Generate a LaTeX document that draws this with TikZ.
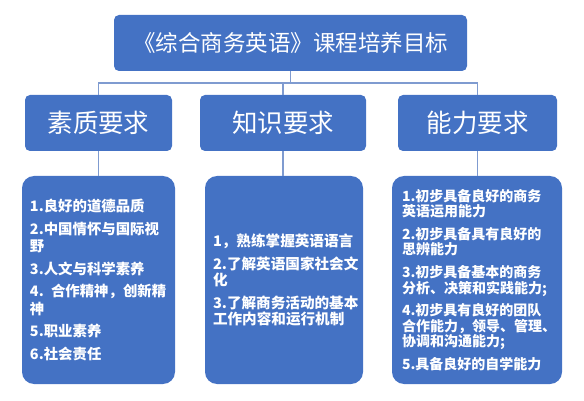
\documentclass[tikz,border=0pt]{standalone}
\usepackage{fontspec}
\setmainfont{Noto Sans CJK SC}
\definecolor{boxblue}{HTML}{4472C4}
\definecolor{linecol}{HTML}{7F9BD0}
\begin{document}
\begin{tikzpicture}[x=1pt,y=-1pt,
  headbox/.style={fill=boxblue,rounded corners=5pt,text=white,inner sep=0pt},
  listbox/.style={fill=boxblue,rounded corners=12pt,text=white,align=left,inner ysep=0pt},
  conn/.style={draw=linecol,line width=1.1pt}]
\useasboundingbox (0,0) rectangle (584,401);
% top
\node[headbox,minimum width=353pt,minimum height=56pt,font=\fontsize{22.5}{25}\selectfont] (top) at (290.5,43) {《综合商务英语》课程培养目标};
% second level
\node[headbox,minimum width=147pt,minimum height=56pt,font=\fontsize{25.5}{28}\selectfont] (k1) at (98.5,123) {素质要求};
\node[headbox,minimum width=166pt,minimum height=56pt,font=\fontsize{25.5}{28}\selectfont] (k2) at (283,123) {知识要求};
\node[headbox,minimum width=159pt,minimum height=56pt,font=\fontsize{25.5}{28}\selectfont] (k3) at (477.5,123) {能力要求};
% lists
\node[listbox,minimum width=153pt,minimum height=208pt,text width=137pt,inner xsep=8pt,font=\bfseries\fontsize{14.4}{17.5}\selectfont] (l1) at (98.5,280) {%
1.良好的道德品质\\[5pt]
2.中国情怀与国际视\\
野\\[5pt]
3.人文与科学素养\\[5pt]
4. 合作精神，创新精\\
神\\[5pt]
5.职业素养\\[5pt]
6.社会责任};
\node[listbox,minimum width=158pt,minimum height=208pt,text width=142pt,inner xsep=8pt,font=\bfseries\fontsize{14.6}{15.8}\selectfont] (l2) at (284,280) {%
1，熟练掌握英语语言\\[7pt]
2.了解英语国家社会文\\
化\\[7pt]
3.了解商务活动的基本\\
工作内容和运行机制};
\node[listbox,minimum width=170pt,minimum height=208pt,text width=150pt,inner xsep=10pt,font=\bfseries\fontsize{14}{15.6}\selectfont] (l3) at (477,280) {%
1.初步具备良好的商务\\
英语运用能力\\[7pt]
2.初步具备具有良好的\\
思辨能力\\[7pt]
3.初步具备基本的商务\\
分析、决策和实践能力;\\[7pt]
4.初步具有良好的团队\\
合作能力，领导、管理、\\
协调和沟通能力;\\[7pt]
5.具备良好的自学能力};
% connectors
\coordinate (bus) at (0,83);
\draw[conn] (top.south) -- (top.south |- bus);
\draw[conn] (k1.north) -- (k1.north |- bus) -- (k3.north |- bus) -- (k3.north);
\draw[conn] (k2.north) -- (k2.north |- bus);
\draw[conn] (k1.south) -- (l1.north);
\draw[conn] (k2.south) -- (k2.south |- l2.north);
\draw[conn] (k3.south) -- (k3.south |- l3.north);
\end{tikzpicture}
\end{document}
